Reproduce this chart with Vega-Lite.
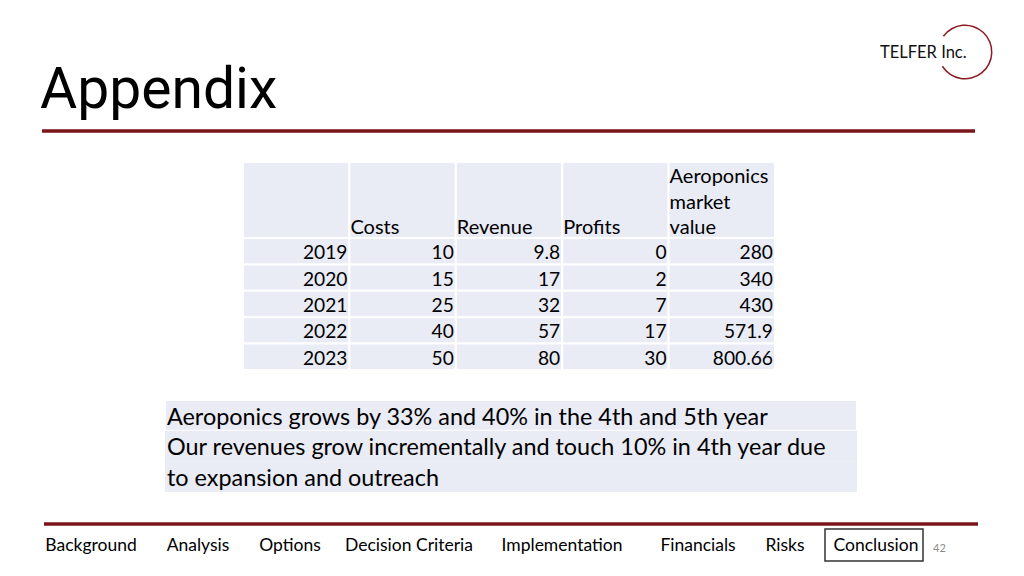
{
  "$schema": "https://vega.github.io/schema/vega-lite/v6.json",
  "width": 1024,
  "height": 576,
  "autosize": "none",
  "padding": 0,
  "background": "white",
  "config": {"view": {"stroke": null}, "font": "Lato"},
  "datasets": {
    "table": [
      {"Year": "2019", "Costs": 10, "Revenue": 9.8, "Profits": 0, "Aeroponics market value": 280},
      {"Year": "2020", "Costs": 15, "Revenue": 17, "Profits": 2, "Aeroponics market value": 340},
      {"Year": "2021", "Costs": 25, "Revenue": 32, "Profits": 7, "Aeroponics market value": 430},
      {"Year": "2022", "Costs": 40, "Revenue": 57, "Profits": 17, "Aeroponics market value": 571.9},
      {"Year": "2023", "Costs": 50, "Revenue": 80, "Profits": 30, "Aeroponics market value": 800.66}
    ],
    "headers": [
      {"col": "Year"},
      {"col": "Costs"},
      {"col": "Revenue"},
      {"col": "Profits"},
      {"col": "Aeroponics market value"}
    ],
    "headerLines": [
      {"col": "Costs", "line": 3, "text": "Costs"},
      {"col": "Revenue", "line": 3, "text": "Revenue"},
      {"col": "Profits", "line": 3, "text": "Profits"},
      {"col": "Aeroponics market value", "line": 1, "text": "Aeroponics"},
      {"col": "Aeroponics market value", "line": 2, "text": "market"},
      {"col": "Aeroponics market value", "line": 3, "text": "value"}
    ],
    "notes": [
      {"line": 1, "para": 1, "text": "Aeroponics grows by 33% and 40% in the 4th and 5th year"},
      {"line": 2, "para": 2, "text": "Our revenues grow incrementally and touch 10% in 4th year due"},
      {"line": 3, "para": 2, "text": "to expansion and outreach"}
    ],
    "tabs": [
      {"order": 1, "tab": "Background", "current": false},
      {"order": 2, "tab": "Analysis", "current": false},
      {"order": 3, "tab": "Options", "current": false},
      {"order": 4, "tab": "Decision Criteria", "current": false},
      {"order": 5, "tab": "Implementation", "current": false},
      {"order": 6, "tab": "Financials", "current": false},
      {"order": 7, "tab": "Risks", "current": false},
      {"order": 8, "tab": "Conclusion", "current": true}
    ],
    "title": [{"text": "Appendix"}],
    "logo": [{"text": "TELFER Inc."}],
    "page": [{"text": "42"}]
  },
  "layer": [
    {
      "data": {"name": "headers"},
      "mark": {"type": "rect", "fill": "#e9ebf5", "stroke": "white", "strokeWidth": 2},
      "encoding": {
        "x": {"field": "col", "type": "nominal", "axis": null, "scale": {"domain": ["Year", "Costs", "Revenue", "Profits", "Aeroponics market value"], "range": [243, 775], "paddingInner": 0, "paddingOuter": 0}},
        "y": {"datum": "header", "type": "nominal", "axis": null, "scale": {"domain": ["header"], "range": [162, 238], "paddingInner": 0, "paddingOuter": 0}}
      }
    },
    {
      "data": {"name": "table"},
      "transform": [{"fold": ["Year", "Costs", "Revenue", "Profits", "Aeroponics market value"], "as": ["col", "value"]}],
      "mark": {"type": "rect", "fill": "#e9ebf5", "stroke": "white", "strokeWidth": 2},
      "encoding": {
        "x": {"field": "col", "type": "nominal", "axis": null, "scale": {"domain": ["Year", "Costs", "Revenue", "Profits", "Aeroponics market value"], "range": [243, 775], "paddingInner": 0, "paddingOuter": 0}},
        "y": {"field": "Year", "type": "nominal", "axis": null, "scale": {"domain": ["2019", "2020", "2021", "2022", "2023"], "range": [238, 370], "paddingInner": 0, "paddingOuter": 0}}
      }
    },
    {
      "data": {"name": "headerLines"},
      "mark": {"type": "text", "align": "left", "baseline": "bottom", "fontSize": 20, "color": "#000000", "dx": -52.2, "dy": 12.67},
      "encoding": {
        "x": {"field": "col", "type": "nominal", "axis": null, "scale": {"domain": ["Year", "Costs", "Revenue", "Profits", "Aeroponics market value"], "range": [243, 775], "paddingInner": 0, "paddingOuter": 0}},
        "y": {"field": "line", "type": "ordinal", "axis": null, "scale": {"domain": [1, 2, 3], "range": [162, 238], "paddingInner": 0, "paddingOuter": 0}},
        "text": {"field": "text", "type": "nominal"}
      }
    },
    {
      "data": {"name": "table"},
      "transform": [{"fold": ["Year", "Costs", "Revenue", "Profits", "Aeroponics market value"], "as": ["col", "value"]}],
      "mark": {"type": "text", "align": "right", "baseline": "bottom", "fontSize": 19.2, "color": "#000000", "dx": 51.2, "dy": 12},
      "encoding": {
        "x": {"field": "col", "type": "nominal", "axis": null, "scale": {"domain": ["Year", "Costs", "Revenue", "Profits", "Aeroponics market value"], "range": [243, 775], "paddingInner": 0, "paddingOuter": 0}},
        "y": {"field": "Year", "type": "nominal", "axis": null, "scale": {"domain": ["2019", "2020", "2021", "2022", "2023"], "range": [238, 370], "paddingInner": 0, "paddingOuter": 0}},
        "text": {"field": "value", "type": "nominal"}
      }
    },
    {
      "data": {"name": "notes"},
      "mark": {"type": "rect", "fill": "#e9ebf5", "stroke": "white"},
      "encoding": {
        "x": {"datum": "box", "type": "nominal", "axis": null, "scale": {"domain": ["box"], "range": [165, 857], "paddingInner": 0, "paddingOuter": 0}},
        "y": {"field": "line", "type": "ordinal", "axis": null, "scale": {"domain": [1, 2, 3], "range": [400, 492], "paddingInner": 0, "paddingOuter": 0}},
        "strokeWidth": {"condition": {"test": "datum.para === 1", "value": 2}, "value": 0}
      }
    },
    {
      "data": {"name": "notes"},
      "mark": {"type": "text", "align": "left", "baseline": "bottom", "fontSize": 23.4, "color": "#000000", "dx": -344, "dy": 14.3},
      "encoding": {
        "x": {"datum": "box", "type": "nominal", "axis": null, "scale": {"domain": ["box"], "range": [165, 857], "paddingInner": 0, "paddingOuter": 0}},
        "y": {"field": "line", "type": "ordinal", "axis": null, "scale": {"domain": [1, 2, 3], "range": [400, 492], "paddingInner": 0, "paddingOuter": 0}},
        "text": {"field": "text", "type": "nominal"}
      }
    },
    {
      "data": {"name": "title"},
      "mark": {"type": "text", "align": "left", "baseline": "alphabetic", "font": "Roboto", "fontSize": 57, "color": "#000000"},
      "encoding": {
        "x": {"value": 40},
        "y": {"value": 108},
        "text": {"field": "text", "type": "nominal"}
      }
    },
    {
      "data": {"values": [{}]},
      "mark": {"type": "rule", "color": "#7a1519", "strokeWidth": 3.5},
      "encoding": {"x": {"value": 42}, "x2": {"value": 975}, "y": {"value": 131}}
    },
    {
      "data": {"values": [{}]},
      "mark": {"type": "arc", "theta": -0.94, "theta2": 4.15, "radius": 27.5, "radius2": 26, "color": "#8b1a22"},
      "encoding": {"x": {"value": 965}, "y": {"value": 52}}
    },
    {
      "data": {"name": "logo"},
      "mark": {"type": "text", "align": "left", "baseline": "alphabetic", "fontSize": 16.5, "color": "#111111"},
      "encoding": {
        "x": {"value": 880},
        "y": {"value": 58},
        "text": {"field": "text", "type": "nominal"}
      }
    },
    {
      "data": {"values": [{}]},
      "mark": {"type": "rule", "color": "#7a1519", "strokeWidth": 3.5},
      "encoding": {"x": {"value": 44}, "x2": {"value": 978}, "y": {"value": 524}}
    },
    {
      "data": {"name": "tabs"},
      "mark": {"type": "text", "align": "center", "baseline": "middle", "fontSize": 17.5, "color": "#000000"},
      "encoding": {
        "x": {"field": "order", "type": "quantitative", "axis": null, "scale": {"domain": [1, 2, 3, 4, 5, 6, 7, 8], "range": [91, 198, 290, 409, 562, 698, 785, 876]}},
        "y": {"value": 546},
        "text": {"field": "tab", "type": "nominal"}
      }
    },
    {
      "data": {"name": "tabs"},
      "transform": [{"filter": "datum.current"}],
      "mark": {"type": "point", "shape": "M-1,-0.3265L1,-0.3265L1,0.3265L-1,0.3265Z", "size": 9604, "filled": false, "stroke": "#333333", "strokeWidth": 1.5, "opacity": 1},
      "encoding": {
        "x": {"field": "order", "type": "quantitative", "axis": null, "scale": {"domain": [1, 2, 3, 4, 5, 6, 7, 8], "range": [91, 198, 290, 409, 562, 698, 785, 874]}},
        "y": {"value": 545}
      }
    },
    {
      "data": {"name": "page"},
      "mark": {"type": "text", "align": "left", "baseline": "middle", "fontSize": 11, "color": "#8c8c8c"},
      "encoding": {
        "x": {"value": 933},
        "y": {"value": 549},
        "text": {"field": "text", "type": "nominal"}
      }
    }
  ],
  "resolve": {"scale": {"x": "independent", "y": "independent"}}
}
